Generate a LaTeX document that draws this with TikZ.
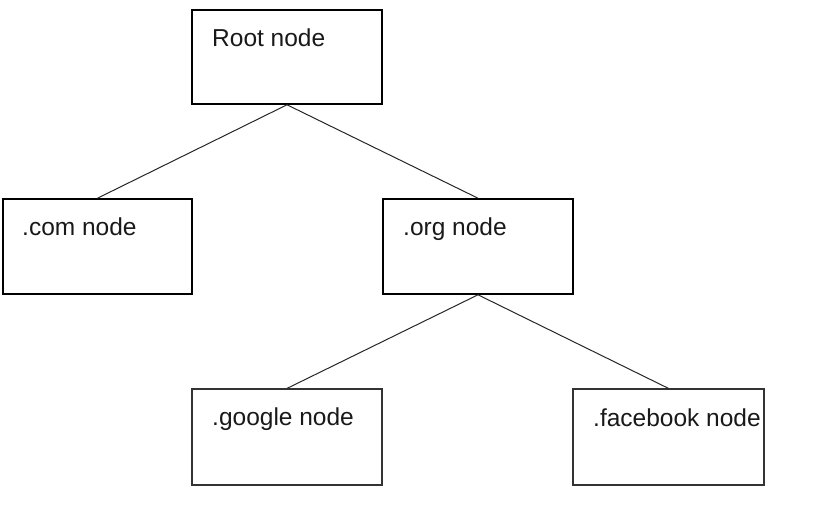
\documentclass[tikz,border=0pt]{standalone}
\usepackage{fontspec}
\setmainfont{Liberation Sans}
\begin{document}
\begin{tikzpicture}[x=1pt,y=-1pt,
  box/.style={draw=black,line width=1.6pt,rectangle,inner sep=0pt},
  lbox/.style={draw=black!80,line width=1.2pt,rectangle,inner sep=0pt},
  lbl/.style={anchor=base west,inner sep=0pt,font=\fontsize{24.5}{29}\selectfont,text=black!90},
  link/.style={draw=black!85,line width=1pt}]
\useasboundingbox (0,0) rectangle (826,517);
\node[box,minimum width=190pt,minimum height=94pt] (root) at (287,57) {};
\node[box,minimum width=189pt,minimum height=95pt] (com) at (97.5,246.5) {};
\node[box,minimum width=190pt,minimum height=95pt] (org) at (478,246.5) {};
\node[lbox,minimum width=190pt,minimum height=96pt] (google) at (287,437) {};
\node[lbox,minimum width=191pt,minimum height=96pt] (facebook) at (668.5,437) {};
\node[lbl] (troot) at (212,46) {Root node};
\node[lbl] (tcom) at (22,235) {.com node};
\node[lbl] (torg) at (403,235) {.org node};
\node[lbl] (tgoogle) at (212,425) {.google node};
\node[lbl] (tfacebook) at (593,426) {.facebook node};
\draw[link] (root.south) -- (com.north);
\draw[link] (root.south) -- (org.north);
\draw[link] (org.south) -- (google.north);
\draw[link] (org.south) -- (facebook.north);
\end{tikzpicture}
\end{document}
